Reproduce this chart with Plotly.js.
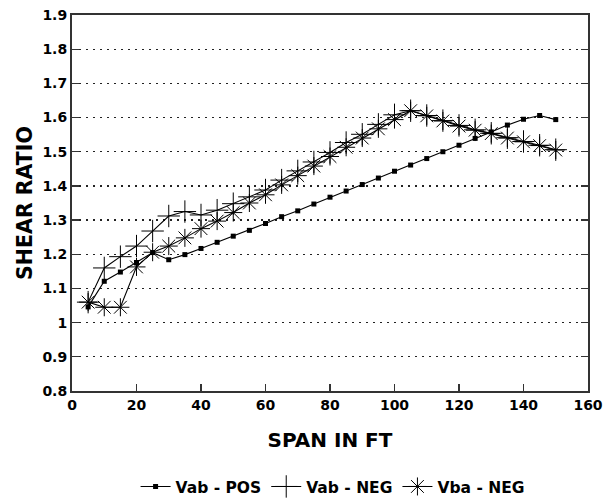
<!DOCTYPE html>
<html><head><meta charset="utf-8">
<script src="https://cdn.plot.ly/plotly-3.0.1.min.js"></script>
<style>html,body{margin:0;padding:0;background:#fff}#chart{width:615px;height:499px}</style>
</head><body><div id="chart"></div>
<script>
const span = [5,10,15,20,25,30,35,40,45,50,55,60,65,70,75,80,85,90,95,100,105,110,115,120,125,130,135,140,145,150];
const vabPos = [1.046,1.121,1.148,1.176,1.205,1.184,1.199,1.217,1.235,1.253,1.270,1.290,1.310,1.327,1.347,1.367,1.385,1.404,1.423,1.443,1.461,1.480,1.500,1.519,1.539,1.558,1.578,1.595,1.606,1.594];
const vabNeg = [1.060,1.160,1.193,1.224,1.268,1.312,1.325,1.315,1.329,1.348,1.368,1.388,1.417,1.444,1.470,1.498,1.527,1.551,1.580,1.608,1.620,1.606,1.591,1.577,1.564,1.554,1.541,1.530,1.519,1.506];
const vbaNeg = [1.060,1.045,1.045,1.163,1.206,1.224,1.248,1.275,1.297,1.322,1.350,1.374,1.403,1.430,1.458,1.486,1.513,1.540,1.567,1.594,1.620,1.605,1.590,1.575,1.563,1.553,1.540,1.529,1.518,1.505];
const names = ['Vab - POS','Vab - NEG','Vba - NEG'];
const xTicks = [0,20,40,60,80,100,120,140,160];
const yTicks = [0.8,0.9,1,1.1,1.2,1.3,1.4,1.5,1.6,1.7,1.8,1.9];

const F = 'DejaVu Sans, Liberation Sans, Arial, sans-serif';
const line = {color:'#000', width:1.1};
const traces = [
  {x:span, y:vabPos, name:names[0], mode:'lines+markers', line:line,
   marker:{symbol:'square', size:5, color:'#000'}},
  {x:span, y:vabNeg, name:names[1], mode:'lines+markers', line:line,
   marker:{symbol:'cross-thin-open', size:16, color:'#000', line:{color:'#000', width:1}}},
  {x:span, y:vbaNeg, name:names[2], mode:'lines+markers', line:line,
   marker:{symbol:'asterisk-open', size:15, color:'#000', line:{color:'#000', width:1}}}
];
const layout = {
  width:615, height:499,
  margin:{l:72, r:27, t:15, b:108, autoexpand:false},
  paper_bgcolor:'#fff', plot_bgcolor:'#fff',
  showlegend:true,
  legend:{orientation:'h', x:0.505, xanchor:'center', y:-0.255, yanchor:'middle',
    font:{family:F, size:15.5, color:'#000', weight:'bold'}, itemwidth:30, tracegroupgap:0},
  xaxis:{range:[0,160], tickvals:xTicks, ticktext:xTicks.map(String),
    showline:true, mirror:true, linecolor:'#333', linewidth:2,
    ticks:'inside', ticklen:7, tickcolor:'#333', tickwidth:1.2, showgrid:false, zeroline:false,
    tickfont:{family:F, size:14, color:'#000', weight:'bold'},
    title:{text:'SPAN IN FT', font:{family:F, size:20, color:'#000', weight:'bold'}, standoff:21}},
  yaxis:{range:[0.8,1.9], tickvals:yTicks, ticktext:yTicks.map(v=>String(v)),
    showline:true, mirror:'ticks', linecolor:'#333', linewidth:2,
    ticks:'inside', ticklen:7, tickcolor:'#333', tickwidth:1.2,
    showgrid:true, gridcolor:'#222', griddash:'2px,5px', gridwidth:1.3, zeroline:false,
    tickfont:{family:F, size:14, color:'#000', weight:'bold'},
    title:{text:'SHEAR RATIO', font:{family:F, size:20.5, color:'#000', weight:'bold'}, standoff:4}}
};
Plotly.newPlot('chart', traces, layout, {displayModeBar:false, staticPlot:true});
</script>
</body></html>
